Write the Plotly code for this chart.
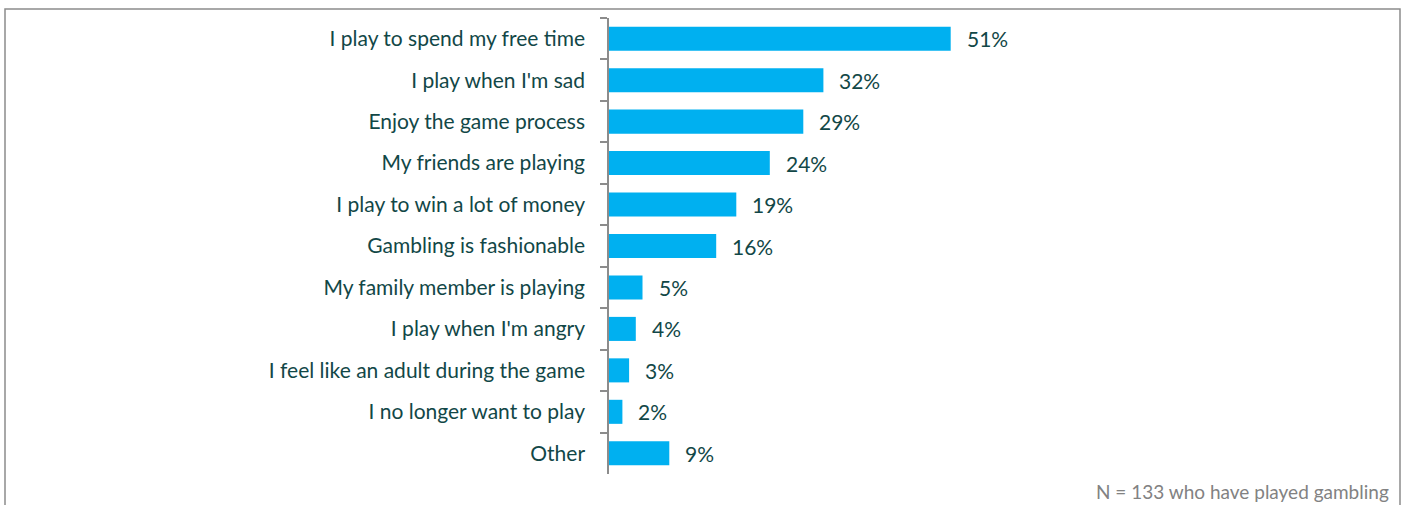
import plotly.graph_objects as go

# Survey results: reasons for playing gambling games
categories = [
    "I play to spend my free time",
    "I play when I'm sad",
    "Enjoy the game process",
    "My friends are playing",
    "I play to win a lot of money",
    "Gambling is fashionable",
    "My family member is playing",
    "I play when I'm angry",
    "I feel like an adult during the game",
    "I no longer want to play",
    "Other",
]
values = [51, 32, 29, 24, 19, 16, 5, 4, 3, 2, 9]
note = "N = 133 who have played gambling"

W, H = 1405, 505
ML, MR, MT, MB = 609, 394, 18, 31
XMAX = 60
plot_w = W - ML - MR
plot_h = H - MT - MB

TEXT = "#124747"
BAR = "#00B0F0"
FONT = "Lato, 'Open Sans', sans-serif"


def px_to_paper_x(px):
    return (px - ML) / plot_w


def px_to_paper_y(py):
    return (H - MB - py) / plot_h


fig = go.Figure(
    go.Bar(
        x=values,
        y=categories,
        orientation="h",
        marker=dict(color=BAR, line=dict(width=0)),
        hoverinfo="x+y",
    )
)

# value labels next to each bar
for cat, v in zip(categories, values):
    fig.add_annotation(
        x=v, y=cat, xref="x", yref="y",
        text=f"{v}%", showarrow=False,
        xanchor="left", xshift=14,
        font=dict(family=FONT, size=21, color=TEXT),
    )

# sample size note
fig.add_annotation(
    x=px_to_paper_x(1391), y=px_to_paper_y(491),
    xref="paper", yref="paper",
    text=note, showarrow=False,
    xanchor="right", yanchor="middle",
    font=dict(family=FONT, size=19, color="#828282"),
)

# outer frame
fig.add_shape(
    type="rect", xref="paper", yref="paper",
    x0=px_to_paper_x(5), x1=px_to_paper_x(1400),
    y0=px_to_paper_y(520), y1=px_to_paper_y(9),
    line=dict(color="#8c8c8c", width=1.5),
    fillcolor="rgba(0,0,0,0)", layer="below",
)

fig.update_layout(
    width=W, height=H,
    margin=dict(l=ML, r=MR, t=MT, b=MB, pad=0),
    paper_bgcolor="white", plot_bgcolor="white",
    bargap=0.42,
    showlegend=False,
    font=dict(family=FONT, size=21, color=TEXT),
    xaxis=dict(
        range=[0, XMAX], visible=False, fixedrange=True,
    ),
    yaxis=dict(
        autorange="reversed",
        type="category",
        showline=True, linecolor="#8c8c8c", linewidth=1.5,
        ticks="outside", ticklen=7, tickcolor="#8c8c8c", tickwidth=1.5,
        tickson="boundaries",
        ticklabelstandoff=18,
        showgrid=False, zeroline=False,
        tickfont=dict(family=FONT, size=21, color=TEXT),
    ),
)

fig.write_html("out.html")
